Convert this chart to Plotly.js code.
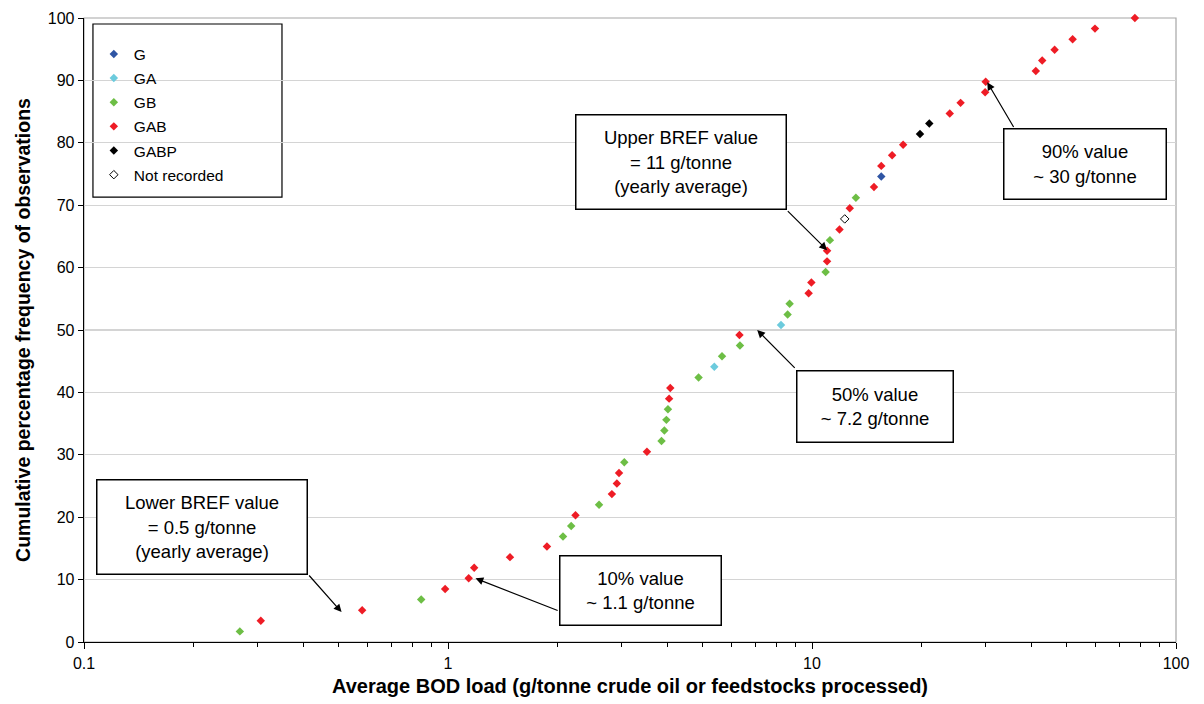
<!DOCTYPE html>
<html>
<head>
<meta charset="utf-8">
<script src="https://cdn.plot.ly/plotly-3.0.1.min.js"></script>
<style>
  html, body { margin: 0; padding: 0; background: #fff; }
  #chart { width: 1204px; height: 704px; }
</style>
</head>
<body>
<div id="chart"></div>
<script>
// BOD load per installation (g/tonne), in order of cumulative rank
const bodLoad = [
  0.268, 0.306, 0.581, 0.844, 0.982, 1.14, 1.18, 1.48, 1.87, 2.07,
  2.18, 2.24, 2.60, 2.82, 2.91, 2.95, 3.05, 3.52, 3.86, 3.93,
  3.98, 4.02, 4.05, 4.08, 4.88, 5.39, 5.66, 6.34, 6.32, 8.22,
  8.57, 8.68, 9.79, 9.96, 10.9, 11.0, 11.0, 11.2, 11.9, 12.3,
  12.7, 13.2, 14.8, 15.5, 15.5, 16.6, 17.8, 19.8, 21.0, 23.9,
  25.6, 29.9, 30.0, 41.2, 42.9, 46.4, 52.0, 59.9, 77.1,
];
// cumulative percentage frequency (%)
const cumFreq = [
  1.7, 3.4, 5.1, 6.8, 8.5, 10.2, 11.9, 13.6, 15.3, 16.9,
  18.6, 20.3, 22.0, 23.7, 25.4, 27.1, 28.8, 30.5, 32.2, 33.9,
  35.6, 37.3, 39.0, 40.7, 42.4, 44.1, 45.8, 47.5, 49.2, 50.8,
  52.5, 54.2, 55.9, 57.6, 59.3, 61.0, 62.7, 64.4, 66.1, 67.8,
  69.5, 71.2, 72.9, 74.6, 76.3, 78.0, 79.7, 81.4, 83.1, 84.7,
  86.4, 88.1, 89.8, 91.5, 93.2, 94.9, 96.6, 98.3, 100,
];
// treatment class of each observation
const treatment = [
  'GB', 'GAB', 'GAB', 'GB', 'GAB', 'GAB', 'GAB', 'GAB', 'GAB', 'GB',
  'GB', 'GAB', 'GB', 'GAB', 'GAB', 'GAB', 'GB', 'GAB', 'GB', 'GB',
  'GB', 'GB', 'GAB', 'GAB', 'GB', 'GA', 'GB', 'GB', 'GAB', 'GA',
  'GB', 'GB', 'GAB', 'GAB', 'GB', 'GAB', 'GAB', 'GB', 'GAB', 'Not recorded',
  'GAB', 'GB', 'GAB', 'G', 'GAB', 'GAB', 'GAB', 'GABP', 'GABP', 'GAB',
  'GAB', 'GAB', 'GAB', 'GAB', 'GAB', 'GAB', 'GAB', 'GAB', 'GAB',
];
const classes = ['G', 'GA', 'GB', 'GAB', 'GABP', 'Not recorded'];

// callouts: label + the value the arrow points at
const calloutText = [
  'Lower BREF value<br>= 0.5 g/tonne<br>(yearly average)',
  '10% value<br>~ 1.1 g/tonne',
  '50% value<br>~ 7.2 g/tonne',
  'Upper BREF value<br>= 11 g/tonne<br>(yearly average)',
  '90% value<br>~ 30 g/tonne',
];
const calloutX = [0.51, 1.19, 7.07, 11.0, 30.3];
const calloutY = [4.8, 10.2, 50.0, 62.8, 89.7];

const FONT = 'Liberation Sans, Arial, sans-serif';
const COLORS = {
  G: '#2F55A4', GA: '#6CCBDD', GB: '#6DBE45', GAB: '#EE1C25', GABP: '#000000', 'Not recorded': '#000000',
};

// ── callout boxes: centre (data units), px size, arrow tail (data units) ──
const BOXES = [
  { cx: 0.211, cy: 18.5, w: 211, h: 95, tx: 0.412, ty: 10.9 },
  { cx: 3.37, cy: 8.33, w: 162, h: 70, tx: 2.02, ty: 4.96 },
  { cx: 14.9, cy: 37.8, w: 157, h: 72, tx: 9.05, ty: 43.7 },
  { cx: 4.36, cy: 76.9, w: 211, h: 95, tx: 8.50, ty: 69.3 },
  { cx: 56.3, cy: 76.6, w: 163, h: 71, tx: 36.0, ty: 82.3 },
];

const traces = classes.map((cls) => {
  const idx = treatment.map((t, i) => (t === cls ? i : -1)).filter((i) => i >= 0);
  const open = cls === 'Not recorded';
  return {
    type: 'scatter', mode: 'markers', name: cls, legendgroup: cls,
    x: idx.map((i) => bodLoad[i]),
    y: idx.map((i) => cumFreq[i]),
    marker: {
      symbol: open ? 'diamond-open' : 'diamond', size: 6.5, color: COLORS[cls],
      line: { width: open ? 1 : 0, color: COLORS[cls] },
    },
    cliponaxis: false,
    hoverinfo: 'x+y+name',
  };
});

const annotations = [];
calloutText.forEach((txt, i) => {
  const b = BOXES[i];
  // arrow first (no text), box drawn over its tail
  annotations.push({
    x: Math.log10(calloutX[i]), y: calloutY[i], xref: 'x', yref: 'y',
    ax: Math.log10(b.tx), ay: b.ty, axref: 'x', ayref: 'y',
    text: '', showarrow: true, arrowhead: 2, arrowsize: 1.3, arrowwidth: 1.2,
    arrowcolor: '#000', standoff: 0, startstandoff: 0,
  });
  annotations.push({
    x: Math.log10(b.cx), y: b.cy, xref: 'x', yref: 'y',
    text: txt, showarrow: false, width: b.w - 2, height: b.h - 2,
    align: 'center', valign: 'middle',
    bgcolor: '#fff', bordercolor: '#000', borderwidth: 1.5, borderpad: 0,
    font: { family: FONT, size: 18.5, color: '#000' },
  });
});

const layout = {
  width: 1204, height: 704,
  paper_bgcolor: '#fff', plot_bgcolor: '#fff',
  font: { family: FONT, size: 15, color: '#000' },
  margin: { l: 84, r: 28, t: 18, b: 62 },
  showlegend: true,
  legend: {
    x: 0.009, y: 0.969, xanchor: 'left', yanchor: 'top',
    bgcolor: 'rgba(0,0,0,0)', borderwidth: 0,
    font: { family: FONT, size: 15.5, color: '#000' },
    itemwidth: 30, traceorder: 'grouped', tracegroupgap: 1,
  },
  xaxis: {
    type: 'log', range: [-1, 2],
    tickvals: [0.1, 1, 10, 100], ticktext: ['0.1', '1', '10', '100'],
    ticks: 'outside', ticklen: 6, tickcolor: '#000', tickwidth: 1,
    minor: { ticks: 'outside', ticklen: 4, tickcolor: '#000', dtick: 'D1', showgrid: false },
    showgrid: false, zeroline: false,
    showline: true, linecolor: '#000', linewidth: 1.3,
    tickfont: { family: FONT, size: 16 },
    title: { text: '<b>Average BOD load (g/tonne crude oil or feedstocks processed)</b>', font: { family: FONT, size: 20 }, standoff: 8 },
  },
  yaxis: {
    range: [0, 100], dtick: 10,
    ticks: 'outside', ticklen: 5, tickcolor: '#000',
    showgrid: true, gridcolor: '#D4D4D4', gridwidth: 1.2, zeroline: false,
    showline: true, linecolor: '#000', linewidth: 1.3,
    tickfont: { family: FONT, size: 16 },
    title: { text: '<b>Cumulative percentage frequency of observations</b>', font: { family: FONT, size: 19.5 }, standoff: 12 },
  },
  shapes: [
    // grey frame on top/right of the plot area
    { type: 'rect', xref: 'paper', yref: 'paper', x0: 0, x1: 1, y0: 0, y1: 1,
      line: { color: '#A6A6A6', width: 1.2 }, layer: 'below' },
    // legend box
    { type: 'rect', xref: 'paper', yref: 'paper', x0: 0.0082, x1: 0.1813, y0: 0.7131, y1: 0.9904,
      line: { color: '#000', width: 1.2 }, fillcolor: '#fff', layer: 'below' },
  ],
  annotations,
};

Plotly.newPlot('chart', traces, layout, { displayModeBar: false, staticPlot: true });
</script>
</body>
</html>
